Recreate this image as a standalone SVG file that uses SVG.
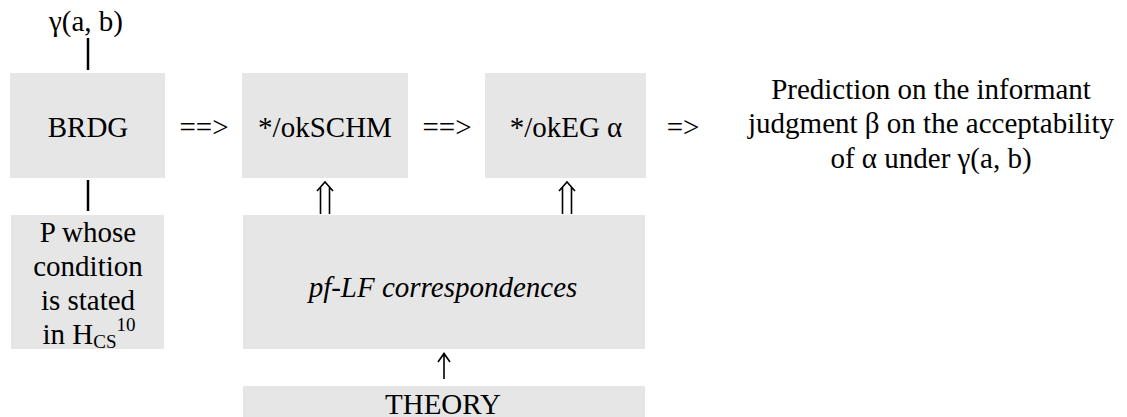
<svg xmlns="http://www.w3.org/2000/svg" width="1127" height="417" viewBox="0 0 1127 417">
<style>
text{font-family:Liberation Serif,Tinos,Times New Roman,Times,serif;font-size:29px}
.box{fill:#e6e6e6}
.c{text-anchor:middle}
.ln{stroke:#000;stroke-width:2.5;fill:none}
.ar{stroke:#000;stroke-width:1.6;fill:none}
</style>
<defs>
<path id="dbl" d="M-4.5,-20 V7 M4.5,-20 V7 M-8,-16 L0,-25 L8,-16"/>
</defs>
<rect width="1127" height="417" fill="#fff"/>
<g id="gamma"><text class="c" x="86" y="31">γ(a, b)</text></g>
<g id="brdg"><rect class="box" x="10" y="73" width="155" height="105"/><text class="c" x="88" y="137">BRDG</text></g>
<g id="schm"><rect class="box" x="242" y="73" width="166" height="105"/><text class="c" x="325" y="137">*/okSCHM</text></g>
<g id="eg"><rect class="box" x="485" y="73" width="161" height="105"/><text class="c" x="566" y="137">*/okEG α</text></g>
<g id="prediction">
<text class="c" x="931" y="99">Prediction on the informant</text>
<text class="c" x="931" y="133">judgment β on the acceptability</text>
<text class="c" x="931" y="168">of α under γ(a, b)</text>
</g>
<g id="p">
<rect class="box" x="11" y="215" width="153" height="134"/>
<text class="c" x="88" y="242">P whose</text>
<text class="c" x="88" y="276">condition</text>
<text class="c" x="88" y="310">is stated</text>
<text class="c" x="89" y="344">in H<tspan font-size="19" dy="4">CS</tspan><tspan font-size="19" dy="-17">10</tspan></text>
</g>
<g id="pflf"><rect class="box" x="243" y="215" width="402" height="134"/><text class="c" x="443" y="297" font-style="italic">pf-LF correspondences</text></g>
<g id="theory"><rect class="box" x="243" y="386" width="402" height="31"/><text class="c" x="443" y="414">THEORY</text></g>
<g id="connectors">
<line class="ln" x1="88" y1="38" x2="88" y2="70"/>
<line class="ln" x1="88" y1="180" x2="88" y2="211"/>
<text class="c" x="204" y="137">==&gt;</text>
<text class="c" x="447" y="137">==&gt;</text>
<text class="c" x="683" y="137">=&gt;</text>
<use href="#dbl" class="ar" x="325" y="207"/>
<use href="#dbl" class="ar" x="567" y="207"/>
<path class="ar" d="M444,354 V379 M438,362 L444,353.5 L450,362"/>
</g>
</svg>
